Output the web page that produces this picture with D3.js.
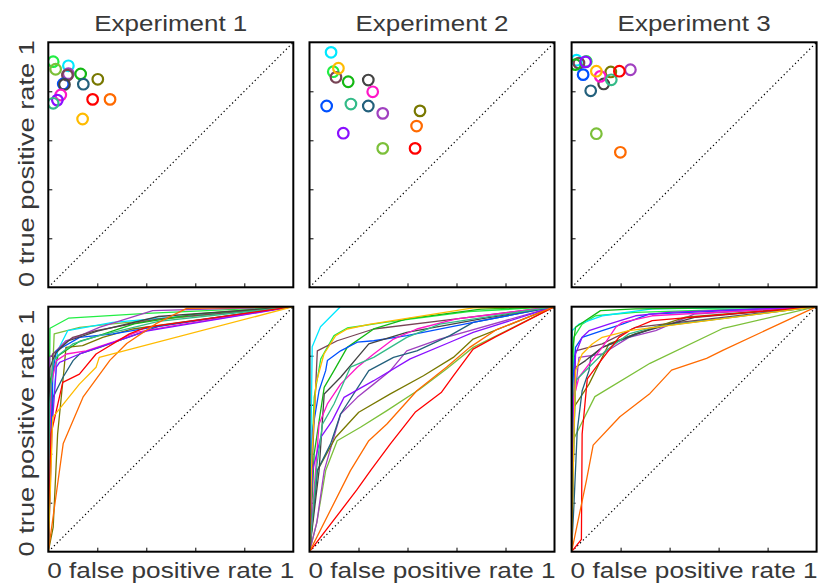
<!DOCTYPE html>
<html>
<head>
<meta charset="utf-8">
<title>ROC experiments</title>
<style>
body{margin:0;background:#fff;}
text{font-family:"Liberation Sans",Arial,sans-serif;fill:#383838;}
</style>
<script src="https://d3js.org/d3.v7.min.js"></script>
</head>
<body>
<svg width="820" height="584"></svg>
<script>
// classifiers (same order in every array below)
var classifiers = ["brightGreen","yellowGreen","cyan","purple","maroon","green","olive","darkTeal",
                   "blue","darkGray","magenta","violet","teal","red","orange","amber"];
var classifierColors = ["#22ee44","#7cc03a","#00e8ff","#a040c0","#774455","#14b814","#787800","#23607c",
                        "#0050ff","#444444","#ff16c8","#8a10ff","#33bb88","#ff0000","#ff6a00","#ffbb00"];

var titles = ["Experiment 1","Experiment 2","Experiment 3"];
var tickValues = [0.2,0.4,0.6,0.8];

// operating points [false positive rate, true positive rate]
var exp1Rates = [[0.020,0.921],[0.030,0.890],[0.082,0.904],[0.082,0.872],[0.078,0.866],[0.132,0.871],[0.202,0.849],[0.143,0.829],
                 [0.061,0.830],[0.066,0.828],[0.051,0.785],[0.037,0.764],[0.020,0.751],[0.181,0.767],[0.252,0.767],[0.140,0.687]];
var exp2Rates = [[0.097,0.880],[0.299,0.567],[0.088,0.959],[0.299,0.710],[0.108,0.857],[0.158,0.839],[0.451,0.720],[0.240,0.740],
                 [0.070,0.740],[0.240,0.846],[0.258,0.798],[0.138,0.629],[0.169,0.748],[0.431,0.567],[0.437,0.658],[0.118,0.894]];
var exp3Rates = [[0.060,0.922],[0.101,0.627],[0.020,0.927],[0.240,0.888],[0.030,0.915],[0.016,0.909],[0.160,0.879],[0.078,0.802],
                 [0.047,0.868],[0.131,0.830],[0.117,0.861],[0.057,0.920],[0.162,0.847],[0.195,0.882],[0.199,0.551],[0.101,0.882]];

// ROC curves
var exp1Curves = [
  [[0,0],[0.004,0.6],[0.007,0.912],[0.082,0.953],[0.402,0.973],[1,1]],
  [[0,0],[0.012,0.6],[0.024,0.889],[0.128,0.916],[0.263,0.930],[1,1]],
  [[0,0],[0.015,0.55],[0.038,0.820],[0.079,0.902],[0.263,0.936],[0.508,0.957],[1,1]],
  [[0,0],[0.003,0.5],[0.006,0.793],[0.072,0.861],[0.113,0.875],[0.208,0.916],[0.426,0.984],[1,1]],
  [[0,0],[0.008,0.55],[0.018,0.807],[0.100,0.875],[0.195,0.902],[0.45,0.95],[1,1]],
  [[0,0],[0.008,0.7],[0.04,0.8],[0.13,0.86],[0.2,0.88],[0.35,0.93],[0.6,0.97],[1,1]],
  [[0,0],[0.02,0.1],[0.038,0.48],[0.065,0.753],[0.072,0.834],[0.14,0.841],[0.222,0.875],[0.345,0.909],[1,1]],
  [[0,0],[0.008,0.35],[0.019,0.630],[0.060,0.712],[0.101,0.780],[0.128,0.807],[0.210,0.834],[0.45,0.92],[1,1]],
  [[0,0],[0.01,0.4],[0.019,0.739],[0.033,0.820],[0.128,0.875],[0.264,0.889],[0.509,0.930],[1,1]],
  [[0,0],[0.006,0.75],[0.03,0.81],[0.08,0.86],[0.2,0.9],[0.45,0.96],[1,1]],
  [[0,0],[0.005,0.45],[0.012,0.684],[0.033,0.780],[0.074,0.807],[0.155,0.820],[0.263,0.855],[0.358,0.895],[0.508,0.922],[1,1]],
  [[0,0],[0.015,0.5],[0.033,0.753],[0.046,0.773],[0.128,0.807],[0.4,0.9],[1,1]],
  [[0,0],[0.005,0.6],[0.02,0.78],[0.047,0.807],[0.1,0.848],[0.2,0.88],[0.45,0.94],[1,1]],
  [[0,0],[0.011,0.480],[0.059,0.691],[0.127,0.725],[0.195,0.807],[0.331,0.889],[0.399,0.916],[1,1]],
  [[0,0],[0.061,0.442],[0.143,0.633],[0.252,0.782],[0.320,0.850],[0.442,0.932],[0.565,0.993],[1,1]],
  [[0,0],[0.01,0.3],[0.018,0.548],[0.072,0.616],[0.127,0.684],[0.195,0.753],[0.208,0.793],[1,1]]
];
var exp2Curves = [
  [[0,0],[0.008,0.35],[0.019,0.630],[0.046,0.787],[0.100,0.882],[0.154,0.913],[0.3,0.935],[0.65,0.98],[1,1]],
  [[0,0],[0.03,0.12],[0.066,0.331],[0.113,0.453],[0.208,0.508],[0.316,0.576],[0.451,0.664],[0.559,0.746],[0.668,0.834],[1,1]],
  [[0,0],[0.011,0.837],[0.045,0.918],[0.126,1.0],[1,1]],
  [[0,0],[0.03,0.12],[0.060,0.331],[0.127,0.562],[0.195,0.630],[0.262,0.684],[0.330,0.739],[0.397,0.820],[0.532,0.868],[1,1]],
  [[0,0],[0.015,0.45],[0.032,0.820],[0.113,0.861],[0.262,0.909],[0.6,0.95],[1,1]],
  [[0,0],[0.01,0.2],[0.019,0.399],[0.060,0.671],[0.100,0.739],[0.154,0.834],[0.262,0.909],[0.397,0.950],[0.7,0.99],[1,1]],
  [[0,0],[0.032,0.331],[0.107,0.467],[0.201,0.569],[0.330,0.644],[0.465,0.718],[0.587,0.793],[0.668,0.868],[1,1]],
  [[0,0],[0.015,0.15],[0.032,0.331],[0.086,0.440],[0.127,0.562],[0.242,0.739],[0.343,0.793],[0.438,0.820],[0.573,0.882],[0.668,0.936],[1,1]],
  [[0,0],[0.005,0.25],[0.012,0.494],[0.039,0.657],[0.066,0.739],[0.073,0.780],[0.127,0.820],[0.195,0.855],[0.262,0.861],[0.397,0.882],[0.668,0.936],[1,1]],
  [[0,0],[0.039,0.331],[0.060,0.644],[0.127,0.712],[0.242,0.848],[0.397,0.895],[0.7,0.95],[1,1]],
  [[0,0],[0.015,0.2],[0.039,0.521],[0.073,0.603],[0.127,0.684],[0.195,0.753],[0.262,0.807],[0.343,0.868],[0.438,0.909],[0.6,0.95],[1,1]],
  [[0,0],[0.012,0.331],[0.046,0.467],[0.093,0.535],[0.141,0.630],[0.262,0.698],[0.411,0.787],[0.573,0.855],[0.668,0.895],[1,1]],
  [[0,0],[0.03,0.35],[0.053,0.521],[0.100,0.603],[0.167,0.753],[0.262,0.793],[0.397,0.875],[0.532,0.929],[1,1]],
  [[0,0],[0.193,0.252],[0.249,0.331],[0.330,0.440],[0.431,0.569],[0.539,0.651],[0.587,0.718],[0.668,0.827],[0.761,0.878],[1,1]],
  [[0,0],[0.167,0.331],[0.242,0.453],[0.316,0.521],[0.438,0.657],[0.559,0.753],[0.654,0.834],[0.761,0.905],[1,1]],
  [[0,0],[0.01,0.4],[0.026,0.684],[0.059,0.807],[0.107,0.882],[0.154,0.909],[0.249,0.929],[0.668,0.995],[1,1]]
];
var exp3Curves = [
  [[0,0],[0.004,0.6],[0.009,0.875],[0.043,0.929],[0.098,0.963],[0.261,0.977],[1,1]],
  [[0,0],[0.003,0.449],[0.095,0.633],[0.320,0.769],[0.619,0.912],[1,1]],
  [[0,0],[0.001,0.6],[0.002,0.902],[0.030,0.929],[0.125,0.963],[0.329,0.991],[1,1]],
  [[0,0],[0.01,0.6],[0.030,0.793],[0.125,0.807],[0.234,0.875],[0.343,0.902],[0.5,0.97],[1,1]],
  [[0,0],[0.008,0.6],[0.016,0.820],[0.125,0.848],[0.261,0.916],[1,1]],
  [[0,0],[0.001,0.5],[0.002,0.807],[0.016,0.916],[0.118,0.984],[0.261,0.991],[1,1]],
  [[0,0],[0.005,0.3],[0.009,0.589],[0.071,0.684],[0.152,0.848],[0.261,0.889],[0.465,0.957],[1,1]],
  [[0,0],[0.01,0.2],[0.023,0.494],[0.043,0.657],[0.071,0.739],[0.078,0.793],[0.125,0.834],[0.35,0.92],[1,1]],
  [[0,0],[0.001,0.3],[0.002,0.657],[0.016,0.834],[0.043,0.875],[0.125,0.902],[0.207,0.929],[0.316,0.970],[1,1]],
  [[0,0],[0.008,0.4],[0.016,0.753],[0.057,0.780],[0.125,0.834],[0.261,0.889],[0.506,0.957],[1,1]],
  [[0,0],[0.005,0.35],[0.009,0.630],[0.030,0.712],[0.071,0.766],[0.125,0.834],[0.180,0.916],[0.207,0.936],[0.329,0.963],[1,1]],
  [[0,0],[0.008,0.5],[0.016,0.807],[0.043,0.875],[0.071,0.902],[0.152,0.929],[0.261,0.963],[0.397,0.977],[1,1]],
  [[0,0],[0.008,0.4],[0.016,0.698],[0.071,0.753],[0.139,0.820],[0.234,0.889],[0.329,0.916],[1,1]],
  [[0,0],[0.04,0.05],[0.043,0.480],[0.064,0.705],[0.125,0.787],[0.193,0.875],[0.247,0.909],[0.329,0.943],[1,1]],
  [[0,0],[0.061,0.293],[0.088,0.435],[0.197,0.551],[0.320,0.646],[0.408,0.741],[0.551,0.789],[0.619,0.823],[1,1]],
  [[0,0],[0.008,0.4],[0.016,0.739],[0.043,0.807],[0.084,0.848],[0.125,0.875],[0.234,0.902],[1,1]]
];

var allRates = [exp1Rates, exp2Rates, exp3Rates];
var allCurves = [exp1Curves, exp2Curves, exp3Curves];

var svg = d3.select("svg"),
    size = 245,
    lefts = [48.3, 309.5, 571.6],
    tops = [42.3, 306.7],
    labelCenters = [163.5, 433];

var x = d3.scaleLinear().domain([0,1]).range([0,size]);
var y = d3.scaleLinear().domain([0,1]).range([size,0]);
var line = d3.line().x(d=>x(d[0])).y(d=>y(d[1]));

function panel(col,row){
    var g = svg.append("g").attr("transform",`translate(${lefts[col]},${tops[row]})`);
    var id = "clip"+col+row;
    g.append("clipPath").attr("id",id).append("rect").attr("width",size).attr("height",size);

    // inward ticks
    g.append("g").call(d3.axisLeft(y).tickValues(tickValues).tickSize(-4).tickFormat(""))
        .call(a=>a.select(".domain").remove());
    g.append("g").attr("transform",`translate(0,${size})`)
        .call(d3.axisBottom(x).tickValues(tickValues).tickSize(-4).tickFormat(""))
        .call(a=>a.select(".domain").remove());

    // chance diagonal
    g.append("path").attr("d",line([[0,0],[1,1]]))
        .attr("stroke","#000").attr("stroke-width",1.2).attr("stroke-dasharray","1.3,2.7").attr("fill","none");

    var plot = g.append("g").attr("clip-path",`url(#${id})`);
    if(row==0){
        plot.selectAll("circle").data(allRates[col]).enter().append("circle")
            .attr("cx",d=>x(d[0])).attr("cy",d=>y(d[1])).attr("r",5.3)
            .attr("fill","none").attr("stroke-width",2.2)
            .attr("stroke",(d,i)=>classifierColors[i]);
    } else {
        plot.selectAll("path").data(allCurves[col]).enter().append("path")
            .attr("d",line).attr("fill","none").attr("stroke-width",1.3)
            .attr("stroke-linejoin","round")
            .attr("stroke",(d,i)=>classifierColors[i]);
    }

    g.append("rect").attr("width",size).attr("height",size)
        .attr("fill","none").attr("stroke","#000").attr("stroke-width",2);

    if(row==0){
        svg.append("text").attr("x",lefts[col]+size/2).attr("y",31)
            .attr("text-anchor","middle").attr("font-size",22.5)
            .attr("textLength",153).attr("lengthAdjust","spacingAndGlyphs")
            .text(titles[col]);
    } else {
        svg.append("text").attr("x",lefts[col]+size/2).attr("y",577.5)
            .attr("text-anchor","middle").attr("font-size",22)
            .attr("textLength",247).attr("lengthAdjust","spacingAndGlyphs")
            .text("0 false positive rate 1");
    }
    if(col==0){
        svg.append("text").attr("transform",`translate(34,${labelCenters[row]}) rotate(-90)`)
            .attr("text-anchor","middle").attr("font-size",22)
            .attr("textLength",247).attr("lengthAdjust","spacingAndGlyphs")
            .text("0 true positive rate 1");
    }
}

for(var r=0;r<2;r++){
    for(var c=0;c<3;c++){
        panel(c,r);
    }
}
</script>
</body>
</html>
